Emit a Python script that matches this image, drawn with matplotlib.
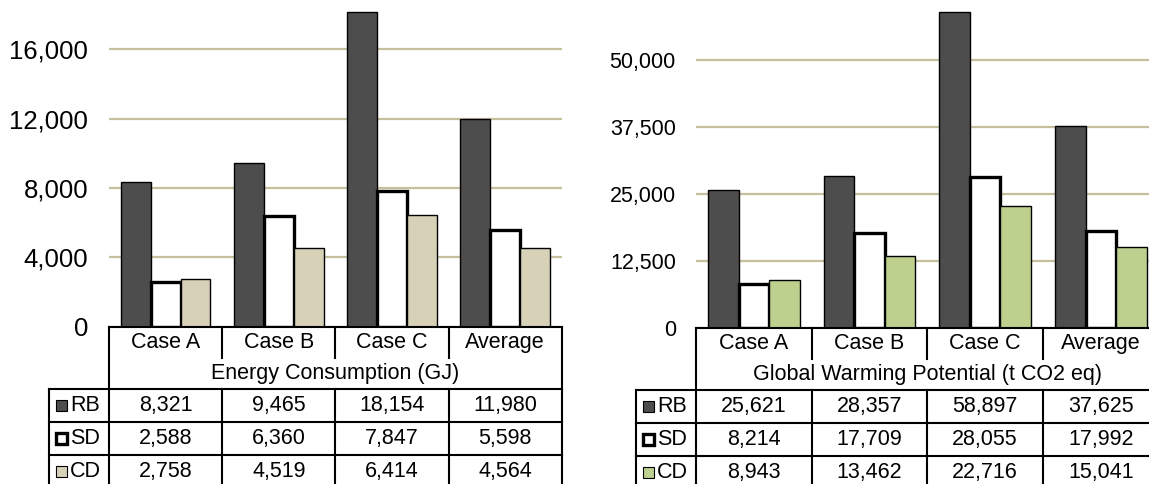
import numpy as np
import matplotlib
matplotlib.use("Agg")
import matplotlib.pyplot as plt
from matplotlib.patches import Rectangle
from matplotlib.lines import Line2D
from matplotlib.ticker import FixedLocator, FuncFormatter

plt.rcParams["font.family"] = ["Liberation Sans", "DejaVu Sans"]

# ---- data -------------------------------------------------------------
cases = ["Case A", "Case B", "Case C", "Average"]
series = ["RB", "SD", "CD"]

energy_rb = [8321, 9465, 18154, 11980]
energy_sd = [2588, 6360, 7847, 5598]
energy_cd = [2758, 4519, 6414, 4564]
energy_ticks = [0, 4000, 8000, 12000, 16000]
energy_title = "Energy Consumption (GJ)"

gwp_rb = [25621, 28357, 58897, 37625]
gwp_sd = [8214, 17709, 28055, 17992]
gwp_cd = [8943, 13462, 22716, 15041]
gwp_ticks = [0, 12500, 25000, 37500, 50000]
gwp_title = "Global Warming Potential (t CO2 eq)"

# ---- styling ----------------------------------------------------------
FIG_W, FIG_H, DPI = 1149, 484, 100
RB_COLOR = "#4d4d4d"
GRID_COLOR = "#c6bf9c"
TABLE_FS = 15.5
LINE_W = 1.5

fig = plt.figure(figsize=(FIG_W / DPI, FIG_H / DPI), dpi=DPI)


def fmt(v):
    return f"{int(round(v)):,}"


def panel(rect_px, values, ticks, ymax, title, cd_color, tick_fs, tick_pad):
    left, top, width, height = rect_px
    ax = fig.add_axes([left / FIG_W, (FIG_H - top - height) / FIG_H,
                       width / FIG_W, height / FIG_H])
    rb, sd, cd = values
    x = np.arange(len(cases))
    w = 0.264
    ax.bar(x - w, rb, w, color=RB_COLOR, edgecolor="black", linewidth=1.0, zorder=3)
    ax.bar(x, sd, w, color="white", edgecolor="black", linewidth=2.4, zorder=4)
    ax.bar(x + w, cd, w, color=cd_color, edgecolor="black", linewidth=1.0, zorder=5)

    ax.set_xlim(-0.5, len(cases) - 0.5)
    ax.set_ylim(0, ymax)
    ax.yaxis.set_major_locator(FixedLocator(ticks))
    ax.yaxis.set_major_formatter(FuncFormatter(lambda v, p: fmt(v)))
    ax.yaxis.grid(True, color=GRID_COLOR, linewidth=1.6, zorder=0)
    ax.set_axisbelow(True)
    ax.set_xticks([])
    ax.tick_params(axis="y", length=0, pad=tick_pad, labelsize=tick_fs)
    for s in ax.spines.values():
        s.set_visible(False)

    # ---- data table under the plot, laid out in pixels ----
    W, H = width, height
    ncol = len(cases)
    cw = W / ncol
    leg_w = 60
    rows = [0, 31, 62.5, 95.5, 128.5, 161.5]

    def X(px):
        return px / W

    def Y(px):
        return -px / H

    def line(x0, x1, y0, y1):
        ax.add_line(Line2D([X(x0), X(x1)], [Y(y0), Y(y1)], transform=ax.transAxes,
                           color="black", linewidth=LINE_W, clip_on=False,
                           solid_capstyle="projecting", zorder=10))

    line(0, W, rows[0], rows[0])
    for i in range(1, ncol):
        line(i * cw, i * cw, rows[0], rows[1])
    line(0, 0, rows[0], rows[-1])
    line(W, W, rows[0], rows[-1])
    for r in rows[2:]:
        line(-leg_w, W, r, r)
    line(-leg_w, -leg_w, rows[2], rows[-1])
    for i in range(1, ncol):
        line(i * cw, i * cw, rows[2], rows[-1])

    for i, c in enumerate(cases):
        ax.text(X((i + 0.5) * cw), Y((rows[0] + rows[1]) / 2), c,
                transform=ax.transAxes, ha="center", va="center",
                fontsize=TABLE_FS, clip_on=False)
    ax.text(X(W / 2), Y((rows[1] + rows[2]) / 2), title, transform=ax.transAxes,
            ha="center", va="center", fontsize=TABLE_FS, clip_on=False)

    styles = [
        dict(facecolor=RB_COLOR, edgecolor="black", linewidth=0.8),
        dict(facecolor="white", edgecolor="black", linewidth=2.4),
        dict(facecolor=cd_color, edgecolor="black", linewidth=0.8),
    ]
    sq = 11
    for k, (name, vals, st) in enumerate(zip(series, values, styles)):
        yc = (rows[2 + k] + rows[3 + k]) / 2
        ax.add_patch(Rectangle((X(-leg_w + 7), Y(yc + sq / 2)), sq / W, sq / H,
                               transform=ax.transAxes, clip_on=False, zorder=10, **st))
        ax.text(X(-leg_w + 21), Y(yc), name, transform=ax.transAxes,
                ha="left", va="center", fontsize=TABLE_FS, clip_on=False)
        for i, v in enumerate(vals):
            ax.text(X((i + 0.5) * cw), Y(yc), fmt(v), transform=ax.transAxes,
                    ha="center", va="center", fontsize=TABLE_FS, clip_on=False)
    return ax


panel((109, 0, 452.7, 326.7), (energy_rb, energy_sd, energy_cd), energy_ticks,
      18844, energy_title, "#d7d1b7", 18.5, 15)
panel((696, 0, 462.7, 327.7), (gwp_rb, gwp_sd, gwp_cd), gwp_ticks,
      61138, gwp_title, "#bdd08d", 15.5, 14.5)

fig.savefig("out.png", dpi=DPI)
